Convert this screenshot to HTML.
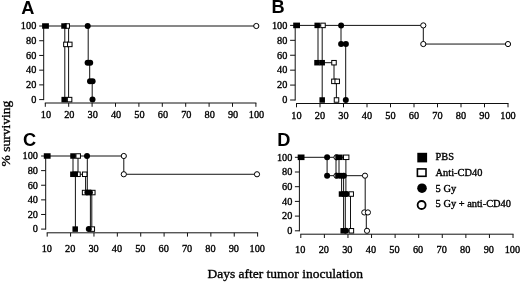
<!DOCTYPE html>
<html><head><meta charset="utf-8"><title>Figure</title>
<style>html,body{margin:0;padding:0;background:#fff;}svg{display:block;}</style></head>
<body><svg width="520" height="282" viewBox="0 0 520 282">
<rect width="520" height="282" fill="#fff"/>
<line x1="43.70" y1="26.00" x2="43.70" y2="100.10" stroke="#111" stroke-width="1"/>
<line x1="39.20" y1="99.60" x2="43.70" y2="99.60" stroke="#111" stroke-width="1"/>
<text x="36.30" y="102.90" font-size="10.3" text-anchor="end" font-family="&quot;Liberation Serif&quot;, serif" font-weight="normal" stroke="#000" stroke-width="0.35" >0</text>
<line x1="39.20" y1="84.88" x2="43.70" y2="84.88" stroke="#111" stroke-width="1"/>
<text x="36.30" y="88.18" font-size="10.3" text-anchor="end" font-family="&quot;Liberation Serif&quot;, serif" font-weight="normal" stroke="#000" stroke-width="0.35" >20</text>
<line x1="39.20" y1="70.16" x2="43.70" y2="70.16" stroke="#111" stroke-width="1"/>
<text x="36.30" y="73.46" font-size="10.3" text-anchor="end" font-family="&quot;Liberation Serif&quot;, serif" font-weight="normal" stroke="#000" stroke-width="0.35" >40</text>
<line x1="39.20" y1="55.44" x2="43.70" y2="55.44" stroke="#111" stroke-width="1"/>
<text x="36.30" y="58.74" font-size="10.3" text-anchor="end" font-family="&quot;Liberation Serif&quot;, serif" font-weight="normal" stroke="#000" stroke-width="0.35" >60</text>
<line x1="39.20" y1="40.72" x2="43.70" y2="40.72" stroke="#111" stroke-width="1"/>
<text x="36.30" y="44.02" font-size="10.3" text-anchor="end" font-family="&quot;Liberation Serif&quot;, serif" font-weight="normal" stroke="#000" stroke-width="0.35" >80</text>
<line x1="39.20" y1="26.00" x2="43.70" y2="26.00" stroke="#111" stroke-width="1"/>
<text x="36.30" y="29.30" font-size="10.3" text-anchor="end" font-family="&quot;Liberation Serif&quot;, serif" font-weight="normal" stroke="#000" stroke-width="0.35" >100</text>
<line x1="44.80" y1="103.00" x2="256.40" y2="103.00" stroke="#111" stroke-width="1"/>
<line x1="45.30" y1="103.00" x2="45.30" y2="106.80" stroke="#111" stroke-width="1"/>
<text x="45.90" y="118.40" font-size="10.3" text-anchor="middle" font-family="&quot;Liberation Serif&quot;, serif" font-weight="normal" stroke="#000" stroke-width="0.35" >10</text>
<line x1="68.70" y1="103.00" x2="68.70" y2="106.80" stroke="#111" stroke-width="1"/>
<text x="69.30" y="118.40" font-size="10.3" text-anchor="middle" font-family="&quot;Liberation Serif&quot;, serif" font-weight="normal" stroke="#000" stroke-width="0.35" >20</text>
<line x1="92.10" y1="103.00" x2="92.10" y2="106.80" stroke="#111" stroke-width="1"/>
<text x="92.70" y="118.40" font-size="10.3" text-anchor="middle" font-family="&quot;Liberation Serif&quot;, serif" font-weight="normal" stroke="#000" stroke-width="0.35" >30</text>
<line x1="115.50" y1="103.00" x2="115.50" y2="106.80" stroke="#111" stroke-width="1"/>
<text x="116.10" y="118.40" font-size="10.3" text-anchor="middle" font-family="&quot;Liberation Serif&quot;, serif" font-weight="normal" stroke="#000" stroke-width="0.35" >40</text>
<line x1="138.90" y1="103.00" x2="138.90" y2="106.80" stroke="#111" stroke-width="1"/>
<text x="139.50" y="118.40" font-size="10.3" text-anchor="middle" font-family="&quot;Liberation Serif&quot;, serif" font-weight="normal" stroke="#000" stroke-width="0.35" >50</text>
<line x1="162.30" y1="103.00" x2="162.30" y2="106.80" stroke="#111" stroke-width="1"/>
<text x="162.90" y="118.40" font-size="10.3" text-anchor="middle" font-family="&quot;Liberation Serif&quot;, serif" font-weight="normal" stroke="#000" stroke-width="0.35" >60</text>
<line x1="185.70" y1="103.00" x2="185.70" y2="106.80" stroke="#111" stroke-width="1"/>
<text x="186.30" y="118.40" font-size="10.3" text-anchor="middle" font-family="&quot;Liberation Serif&quot;, serif" font-weight="normal" stroke="#000" stroke-width="0.35" >70</text>
<line x1="209.10" y1="103.00" x2="209.10" y2="106.80" stroke="#111" stroke-width="1"/>
<text x="209.70" y="118.40" font-size="10.3" text-anchor="middle" font-family="&quot;Liberation Serif&quot;, serif" font-weight="normal" stroke="#000" stroke-width="0.35" >80</text>
<line x1="232.50" y1="103.00" x2="232.50" y2="106.80" stroke="#111" stroke-width="1"/>
<text x="233.10" y="118.40" font-size="10.3" text-anchor="middle" font-family="&quot;Liberation Serif&quot;, serif" font-weight="normal" stroke="#000" stroke-width="0.35" >90</text>
<line x1="255.90" y1="103.00" x2="255.90" y2="106.80" stroke="#111" stroke-width="1"/>
<text x="256.50" y="118.40" font-size="10.3" text-anchor="middle" font-family="&quot;Liberation Serif&quot;, serif" font-weight="normal" stroke="#000" stroke-width="0.35" >100</text>
<text x="21.30" y="13.80" font-size="18.2" text-anchor="start" font-family="&quot;Liberation Sans&quot;, sans-serif" font-weight="bold" >A</text>
<line x1="295.20" y1="25.40" x2="295.20" y2="100.50" stroke="#111" stroke-width="1"/>
<line x1="290.10" y1="100.00" x2="295.20" y2="100.00" stroke="#111" stroke-width="1"/>
<text x="287.40" y="103.30" font-size="10.3" text-anchor="end" font-family="&quot;Liberation Serif&quot;, serif" font-weight="normal" stroke="#000" stroke-width="0.35" >0</text>
<line x1="290.10" y1="85.08" x2="295.20" y2="85.08" stroke="#111" stroke-width="1"/>
<text x="287.40" y="88.38" font-size="10.3" text-anchor="end" font-family="&quot;Liberation Serif&quot;, serif" font-weight="normal" stroke="#000" stroke-width="0.35" >20</text>
<line x1="290.10" y1="70.16" x2="295.20" y2="70.16" stroke="#111" stroke-width="1"/>
<text x="287.40" y="73.46" font-size="10.3" text-anchor="end" font-family="&quot;Liberation Serif&quot;, serif" font-weight="normal" stroke="#000" stroke-width="0.35" >40</text>
<line x1="290.10" y1="55.24" x2="295.20" y2="55.24" stroke="#111" stroke-width="1"/>
<text x="287.40" y="58.54" font-size="10.3" text-anchor="end" font-family="&quot;Liberation Serif&quot;, serif" font-weight="normal" stroke="#000" stroke-width="0.35" >60</text>
<line x1="290.10" y1="40.32" x2="295.20" y2="40.32" stroke="#111" stroke-width="1"/>
<text x="287.40" y="43.62" font-size="10.3" text-anchor="end" font-family="&quot;Liberation Serif&quot;, serif" font-weight="normal" stroke="#000" stroke-width="0.35" >80</text>
<line x1="290.10" y1="25.40" x2="295.20" y2="25.40" stroke="#111" stroke-width="1"/>
<text x="287.40" y="28.70" font-size="10.3" text-anchor="end" font-family="&quot;Liberation Serif&quot;, serif" font-weight="normal" stroke="#000" stroke-width="0.35" >100</text>
<line x1="296.00" y1="103.50" x2="508.50" y2="103.50" stroke="#111" stroke-width="1"/>
<line x1="296.50" y1="103.50" x2="296.50" y2="107.30" stroke="#111" stroke-width="1"/>
<text x="296.50" y="118.50" font-size="10.3" text-anchor="middle" font-family="&quot;Liberation Serif&quot;, serif" font-weight="normal" stroke="#000" stroke-width="0.35" >10</text>
<line x1="320.00" y1="103.50" x2="320.00" y2="107.30" stroke="#111" stroke-width="1"/>
<text x="320.00" y="118.50" font-size="10.3" text-anchor="middle" font-family="&quot;Liberation Serif&quot;, serif" font-weight="normal" stroke="#000" stroke-width="0.35" >20</text>
<line x1="343.50" y1="103.50" x2="343.50" y2="107.30" stroke="#111" stroke-width="1"/>
<text x="343.50" y="118.50" font-size="10.3" text-anchor="middle" font-family="&quot;Liberation Serif&quot;, serif" font-weight="normal" stroke="#000" stroke-width="0.35" >30</text>
<line x1="367.00" y1="103.50" x2="367.00" y2="107.30" stroke="#111" stroke-width="1"/>
<text x="367.00" y="118.50" font-size="10.3" text-anchor="middle" font-family="&quot;Liberation Serif&quot;, serif" font-weight="normal" stroke="#000" stroke-width="0.35" >40</text>
<line x1="390.50" y1="103.50" x2="390.50" y2="107.30" stroke="#111" stroke-width="1"/>
<text x="390.50" y="118.50" font-size="10.3" text-anchor="middle" font-family="&quot;Liberation Serif&quot;, serif" font-weight="normal" stroke="#000" stroke-width="0.35" >50</text>
<line x1="414.00" y1="103.50" x2="414.00" y2="107.30" stroke="#111" stroke-width="1"/>
<text x="414.00" y="118.50" font-size="10.3" text-anchor="middle" font-family="&quot;Liberation Serif&quot;, serif" font-weight="normal" stroke="#000" stroke-width="0.35" >60</text>
<line x1="437.50" y1="103.50" x2="437.50" y2="107.30" stroke="#111" stroke-width="1"/>
<text x="437.50" y="118.50" font-size="10.3" text-anchor="middle" font-family="&quot;Liberation Serif&quot;, serif" font-weight="normal" stroke="#000" stroke-width="0.35" >70</text>
<line x1="461.00" y1="103.50" x2="461.00" y2="107.30" stroke="#111" stroke-width="1"/>
<text x="461.00" y="118.50" font-size="10.3" text-anchor="middle" font-family="&quot;Liberation Serif&quot;, serif" font-weight="normal" stroke="#000" stroke-width="0.35" >80</text>
<line x1="484.50" y1="103.50" x2="484.50" y2="107.30" stroke="#111" stroke-width="1"/>
<text x="484.50" y="118.50" font-size="10.3" text-anchor="middle" font-family="&quot;Liberation Serif&quot;, serif" font-weight="normal" stroke="#000" stroke-width="0.35" >90</text>
<line x1="508.00" y1="103.50" x2="508.00" y2="107.30" stroke="#111" stroke-width="1"/>
<text x="508.00" y="118.50" font-size="10.3" text-anchor="middle" font-family="&quot;Liberation Serif&quot;, serif" font-weight="normal" stroke="#000" stroke-width="0.35" >100</text>
<text x="271.40" y="13.20" font-size="18.2" text-anchor="start" font-family="&quot;Liberation Sans&quot;, sans-serif" font-weight="bold" >B</text>
<line x1="45.70" y1="156.00" x2="45.70" y2="229.60" stroke="#111" stroke-width="1"/>
<line x1="41.10" y1="229.10" x2="45.70" y2="229.10" stroke="#111" stroke-width="1"/>
<text x="38.00" y="232.40" font-size="10.3" text-anchor="end" font-family="&quot;Liberation Serif&quot;, serif" font-weight="normal" stroke="#000" stroke-width="0.35" >0</text>
<line x1="41.10" y1="214.48" x2="45.70" y2="214.48" stroke="#111" stroke-width="1"/>
<text x="38.00" y="217.78" font-size="10.3" text-anchor="end" font-family="&quot;Liberation Serif&quot;, serif" font-weight="normal" stroke="#000" stroke-width="0.35" >20</text>
<line x1="41.10" y1="199.86" x2="45.70" y2="199.86" stroke="#111" stroke-width="1"/>
<text x="38.00" y="203.16" font-size="10.3" text-anchor="end" font-family="&quot;Liberation Serif&quot;, serif" font-weight="normal" stroke="#000" stroke-width="0.35" >40</text>
<line x1="41.10" y1="185.24" x2="45.70" y2="185.24" stroke="#111" stroke-width="1"/>
<text x="38.00" y="188.54" font-size="10.3" text-anchor="end" font-family="&quot;Liberation Serif&quot;, serif" font-weight="normal" stroke="#000" stroke-width="0.35" >60</text>
<line x1="41.10" y1="170.62" x2="45.70" y2="170.62" stroke="#111" stroke-width="1"/>
<text x="38.00" y="173.92" font-size="10.3" text-anchor="end" font-family="&quot;Liberation Serif&quot;, serif" font-weight="normal" stroke="#000" stroke-width="0.35" >80</text>
<line x1="41.10" y1="156.00" x2="45.70" y2="156.00" stroke="#111" stroke-width="1"/>
<text x="38.00" y="159.30" font-size="10.3" text-anchor="end" font-family="&quot;Liberation Serif&quot;, serif" font-weight="normal" stroke="#000" stroke-width="0.35" >100</text>
<line x1="46.70" y1="232.80" x2="258.12" y2="232.80" stroke="#111" stroke-width="1"/>
<line x1="47.20" y1="232.80" x2="47.20" y2="236.60" stroke="#111" stroke-width="1"/>
<text x="46.80" y="252.20" font-size="10.3" text-anchor="middle" font-family="&quot;Liberation Serif&quot;, serif" font-weight="normal" stroke="#000" stroke-width="0.35" >10</text>
<line x1="70.58" y1="232.80" x2="70.58" y2="236.60" stroke="#111" stroke-width="1"/>
<text x="70.18" y="252.20" font-size="10.3" text-anchor="middle" font-family="&quot;Liberation Serif&quot;, serif" font-weight="normal" stroke="#000" stroke-width="0.35" >20</text>
<line x1="93.96" y1="232.80" x2="93.96" y2="236.60" stroke="#111" stroke-width="1"/>
<text x="93.56" y="252.20" font-size="10.3" text-anchor="middle" font-family="&quot;Liberation Serif&quot;, serif" font-weight="normal" stroke="#000" stroke-width="0.35" >30</text>
<line x1="117.34" y1="232.80" x2="117.34" y2="236.60" stroke="#111" stroke-width="1"/>
<text x="116.94" y="252.20" font-size="10.3" text-anchor="middle" font-family="&quot;Liberation Serif&quot;, serif" font-weight="normal" stroke="#000" stroke-width="0.35" >40</text>
<line x1="140.72" y1="232.80" x2="140.72" y2="236.60" stroke="#111" stroke-width="1"/>
<text x="140.32" y="252.20" font-size="10.3" text-anchor="middle" font-family="&quot;Liberation Serif&quot;, serif" font-weight="normal" stroke="#000" stroke-width="0.35" >50</text>
<line x1="164.10" y1="232.80" x2="164.10" y2="236.60" stroke="#111" stroke-width="1"/>
<text x="163.70" y="252.20" font-size="10.3" text-anchor="middle" font-family="&quot;Liberation Serif&quot;, serif" font-weight="normal" stroke="#000" stroke-width="0.35" >60</text>
<line x1="187.48" y1="232.80" x2="187.48" y2="236.60" stroke="#111" stroke-width="1"/>
<text x="187.08" y="252.20" font-size="10.3" text-anchor="middle" font-family="&quot;Liberation Serif&quot;, serif" font-weight="normal" stroke="#000" stroke-width="0.35" >70</text>
<line x1="210.86" y1="232.80" x2="210.86" y2="236.60" stroke="#111" stroke-width="1"/>
<text x="210.46" y="252.20" font-size="10.3" text-anchor="middle" font-family="&quot;Liberation Serif&quot;, serif" font-weight="normal" stroke="#000" stroke-width="0.35" >80</text>
<line x1="234.24" y1="232.80" x2="234.24" y2="236.60" stroke="#111" stroke-width="1"/>
<text x="233.84" y="252.20" font-size="10.3" text-anchor="middle" font-family="&quot;Liberation Serif&quot;, serif" font-weight="normal" stroke="#000" stroke-width="0.35" >90</text>
<line x1="257.62" y1="232.80" x2="257.62" y2="236.60" stroke="#111" stroke-width="1"/>
<text x="257.22" y="252.20" font-size="10.3" text-anchor="middle" font-family="&quot;Liberation Serif&quot;, serif" font-weight="normal" stroke="#000" stroke-width="0.35" >100</text>
<text x="22.90" y="146.00" font-size="18.2" text-anchor="start" font-family="&quot;Liberation Sans&quot;, sans-serif" font-weight="bold" >C</text>
<line x1="299.40" y1="157.30" x2="299.40" y2="231.30" stroke="#111" stroke-width="1"/>
<line x1="294.90" y1="230.80" x2="299.40" y2="230.80" stroke="#111" stroke-width="1"/>
<text x="292.40" y="234.10" font-size="10.3" text-anchor="end" font-family="&quot;Liberation Serif&quot;, serif" font-weight="normal" stroke="#000" stroke-width="0.35" >0</text>
<line x1="294.90" y1="216.10" x2="299.40" y2="216.10" stroke="#111" stroke-width="1"/>
<text x="292.40" y="219.40" font-size="10.3" text-anchor="end" font-family="&quot;Liberation Serif&quot;, serif" font-weight="normal" stroke="#000" stroke-width="0.35" >20</text>
<line x1="294.90" y1="201.40" x2="299.40" y2="201.40" stroke="#111" stroke-width="1"/>
<text x="292.40" y="204.70" font-size="10.3" text-anchor="end" font-family="&quot;Liberation Serif&quot;, serif" font-weight="normal" stroke="#000" stroke-width="0.35" >40</text>
<line x1="294.90" y1="186.70" x2="299.40" y2="186.70" stroke="#111" stroke-width="1"/>
<text x="292.40" y="190.00" font-size="10.3" text-anchor="end" font-family="&quot;Liberation Serif&quot;, serif" font-weight="normal" stroke="#000" stroke-width="0.35" >60</text>
<line x1="294.90" y1="172.00" x2="299.40" y2="172.00" stroke="#111" stroke-width="1"/>
<text x="292.40" y="175.30" font-size="10.3" text-anchor="end" font-family="&quot;Liberation Serif&quot;, serif" font-weight="normal" stroke="#000" stroke-width="0.35" >80</text>
<line x1="294.90" y1="157.30" x2="299.40" y2="157.30" stroke="#111" stroke-width="1"/>
<text x="292.40" y="160.60" font-size="10.3" text-anchor="end" font-family="&quot;Liberation Serif&quot;, serif" font-weight="normal" stroke="#000" stroke-width="0.35" >100</text>
<line x1="300.30" y1="234.20" x2="513.52" y2="234.20" stroke="#111" stroke-width="1"/>
<line x1="300.80" y1="234.20" x2="300.80" y2="238.00" stroke="#111" stroke-width="1"/>
<text x="300.20" y="252.50" font-size="10.3" text-anchor="middle" font-family="&quot;Liberation Serif&quot;, serif" font-weight="normal" stroke="#000" stroke-width="0.35" >10</text>
<line x1="324.38" y1="234.20" x2="324.38" y2="238.00" stroke="#111" stroke-width="1"/>
<text x="323.78" y="252.50" font-size="10.3" text-anchor="middle" font-family="&quot;Liberation Serif&quot;, serif" font-weight="normal" stroke="#000" stroke-width="0.35" >20</text>
<line x1="347.96" y1="234.20" x2="347.96" y2="238.00" stroke="#111" stroke-width="1"/>
<text x="347.36" y="252.50" font-size="10.3" text-anchor="middle" font-family="&quot;Liberation Serif&quot;, serif" font-weight="normal" stroke="#000" stroke-width="0.35" >30</text>
<line x1="371.54" y1="234.20" x2="371.54" y2="238.00" stroke="#111" stroke-width="1"/>
<text x="370.94" y="252.50" font-size="10.3" text-anchor="middle" font-family="&quot;Liberation Serif&quot;, serif" font-weight="normal" stroke="#000" stroke-width="0.35" >40</text>
<line x1="395.12" y1="234.20" x2="395.12" y2="238.00" stroke="#111" stroke-width="1"/>
<text x="394.52" y="252.50" font-size="10.3" text-anchor="middle" font-family="&quot;Liberation Serif&quot;, serif" font-weight="normal" stroke="#000" stroke-width="0.35" >50</text>
<line x1="418.70" y1="234.20" x2="418.70" y2="238.00" stroke="#111" stroke-width="1"/>
<text x="418.10" y="252.50" font-size="10.3" text-anchor="middle" font-family="&quot;Liberation Serif&quot;, serif" font-weight="normal" stroke="#000" stroke-width="0.35" >60</text>
<line x1="442.28" y1="234.20" x2="442.28" y2="238.00" stroke="#111" stroke-width="1"/>
<text x="441.68" y="252.50" font-size="10.3" text-anchor="middle" font-family="&quot;Liberation Serif&quot;, serif" font-weight="normal" stroke="#000" stroke-width="0.35" >70</text>
<line x1="465.86" y1="234.20" x2="465.86" y2="238.00" stroke="#111" stroke-width="1"/>
<text x="465.26" y="252.50" font-size="10.3" text-anchor="middle" font-family="&quot;Liberation Serif&quot;, serif" font-weight="normal" stroke="#000" stroke-width="0.35" >80</text>
<line x1="489.44" y1="234.20" x2="489.44" y2="238.00" stroke="#111" stroke-width="1"/>
<text x="488.84" y="252.50" font-size="10.3" text-anchor="middle" font-family="&quot;Liberation Serif&quot;, serif" font-weight="normal" stroke="#000" stroke-width="0.35" >90</text>
<line x1="513.02" y1="234.20" x2="513.02" y2="238.00" stroke="#111" stroke-width="1"/>
<text x="512.42" y="252.50" font-size="10.3" text-anchor="middle" font-family="&quot;Liberation Serif&quot;, serif" font-weight="normal" stroke="#000" stroke-width="0.35" >100</text>
<text x="277.20" y="146.30" font-size="18.2" text-anchor="start" font-family="&quot;Liberation Sans&quot;, sans-serif" font-weight="bold" >D</text>
<polyline points="45.30,26.00 256.20,26.00" fill="none" stroke="#111" stroke-width="1"/>
<polyline points="88.20,26.00 88.20,62.80 89.70,62.80 89.70,81.20 92.20,81.20 92.20,99.60" fill="none" stroke="#111" stroke-width="1"/>
<polyline points="68.60,26.00 68.60,99.60" fill="none" stroke="#111" stroke-width="1"/>
<polyline points="64.80,26.00 64.80,99.60" fill="none" stroke="#111" stroke-width="1"/>
<circle cx="256.30" cy="26.00" r="2.6" fill="#fff" stroke="#000" stroke-width="1"/>
<rect x="64.95" y="23.75" width="4.5" height="4.5" fill="#fff" stroke="#000" stroke-width="1"/>
<rect x="63.65" y="42.15" width="4.5" height="4.5" fill="#fff" stroke="#000" stroke-width="1"/>
<rect x="67.55" y="42.15" width="4.5" height="4.5" fill="#fff" stroke="#000" stroke-width="1"/>
<rect x="67.35" y="97.35" width="4.5" height="4.5" fill="#fff" stroke="#000" stroke-width="1"/>
<circle cx="87.70" cy="26.00" r="3.0" fill="#000"/>
<circle cx="87.60" cy="62.80" r="3.0" fill="#000"/>
<circle cx="90.20" cy="62.80" r="3.0" fill="#000"/>
<circle cx="90.00" cy="81.20" r="3.0" fill="#000"/>
<circle cx="92.60" cy="81.20" r="3.0" fill="#000"/>
<circle cx="92.50" cy="99.60" r="3.0" fill="#000"/>
<rect x="61.25" y="23.25" width="5.5" height="5.5" fill="#000"/>
<rect x="61.45" y="96.85" width="5.5" height="5.5" fill="#000"/>
<rect x="42.10" y="23.25" width="6.8" height="5.5" fill="#000"/>
<polyline points="296.50,25.40 423.30,25.40 423.30,44.05 508.00,44.05" fill="none" stroke="#111" stroke-width="1"/>
<polyline points="341.00,25.40 341.00,44.05 345.70,44.05 345.70,100.00" fill="none" stroke="#111" stroke-width="1"/>
<polyline points="322.20,25.40 322.20,62.70 334.00,62.70 334.00,81.35 336.40,81.35 336.40,100.00" fill="none" stroke="#111" stroke-width="1"/>
<polyline points="318.00,25.40 318.00,62.70 322.20,62.70 322.20,100.00" fill="none" stroke="#111" stroke-width="1"/>
<circle cx="423.30" cy="25.40" r="2.6" fill="#fff" stroke="#000" stroke-width="1"/>
<circle cx="423.30" cy="44.05" r="2.6" fill="#fff" stroke="#000" stroke-width="1"/>
<circle cx="508.00" cy="44.05" r="2.6" fill="#fff" stroke="#000" stroke-width="1"/>
<rect x="320.75" y="23.15" width="4.5" height="4.5" fill="#fff" stroke="#000" stroke-width="1"/>
<rect x="331.75" y="60.45" width="4.5" height="4.5" fill="#fff" stroke="#000" stroke-width="1"/>
<rect x="331.65" y="79.10" width="4.5" height="4.5" fill="#fff" stroke="#000" stroke-width="1"/>
<rect x="334.95" y="79.10" width="4.5" height="4.5" fill="#fff" stroke="#000" stroke-width="1"/>
<rect x="334.25" y="97.75" width="4.5" height="4.5" fill="#fff" stroke="#000" stroke-width="1"/>
<circle cx="341.10" cy="25.40" r="3.0" fill="#000"/>
<circle cx="341.10" cy="44.05" r="3.0" fill="#000"/>
<circle cx="345.90" cy="44.05" r="3.0" fill="#000"/>
<circle cx="345.80" cy="100.00" r="3.0" fill="#000"/>
<rect x="314.45" y="22.65" width="5.5" height="5.5" fill="#000"/>
<rect x="314.25" y="59.95" width="5.5" height="5.5" fill="#000"/>
<rect x="319.45" y="59.95" width="5.5" height="5.5" fill="#000"/>
<rect x="319.45" y="97.25" width="5.5" height="5.5" fill="#000"/>
<rect x="293.20" y="22.60" width="6.8" height="5.6" fill="#000"/>
<polyline points="47.20,156.00 123.80,156.00 123.80,174.27 257.00,174.27" fill="none" stroke="#111" stroke-width="1"/>
<polyline points="87.30,156.00 87.30,192.55 90.40,192.55 90.40,229.10" fill="none" stroke="#111" stroke-width="1"/>
<polyline points="78.00,156.00 78.00,174.27 85.60,174.27 85.60,192.55 91.80,192.55 91.80,229.10" fill="none" stroke="#111" stroke-width="1"/>
<polyline points="73.00,156.00 73.00,174.27 75.40,174.27 75.40,229.10" fill="none" stroke="#111" stroke-width="1"/>
<circle cx="123.80" cy="156.00" r="2.6" fill="#fff" stroke="#000" stroke-width="1"/>
<circle cx="123.80" cy="174.27" r="2.6" fill="#fff" stroke="#000" stroke-width="1"/>
<circle cx="257.00" cy="174.27" r="2.6" fill="#fff" stroke="#000" stroke-width="1"/>
<rect x="75.95" y="153.75" width="4.5" height="4.5" fill="#fff" stroke="#000" stroke-width="1"/>
<rect x="75.75" y="172.02" width="4.5" height="4.5" fill="#fff" stroke="#000" stroke-width="1"/>
<rect x="82.45" y="172.02" width="4.5" height="4.5" fill="#fff" stroke="#000" stroke-width="1"/>
<rect x="82.35" y="190.30" width="4.5" height="4.5" fill="#fff" stroke="#000" stroke-width="1"/>
<rect x="90.55" y="190.30" width="4.5" height="4.5" fill="#fff" stroke="#000" stroke-width="1"/>
<rect x="90.05" y="226.85" width="4.5" height="4.5" fill="#fff" stroke="#000" stroke-width="1"/>
<circle cx="87.00" cy="156.00" r="3.0" fill="#000"/>
<circle cx="87.40" cy="192.55" r="3.0" fill="#000"/>
<circle cx="89.90" cy="192.55" r="3.0" fill="#000"/>
<circle cx="88.80" cy="229.10" r="3.0" fill="#000"/>
<rect x="70.25" y="153.25" width="5.5" height="5.5" fill="#000"/>
<rect x="70.15" y="171.52" width="5.5" height="5.5" fill="#000"/>
<rect x="72.45" y="171.52" width="5.5" height="5.5" fill="#000"/>
<rect x="72.45" y="226.35" width="5.5" height="5.5" fill="#000"/>
<rect x="43.80" y="153.25" width="6.8" height="5.5" fill="#000"/>
<polyline points="300.80,157.30 336.00,157.30 336.00,175.68 365.20,175.68 365.20,212.43 366.30,212.43 366.30,230.80" fill="none" stroke="#111" stroke-width="1"/>
<polyline points="327.10,157.30 327.10,175.68 343.60,175.68 343.60,194.05 345.30,194.05 345.30,230.80" fill="none" stroke="#111" stroke-width="1"/>
<polyline points="336.00,157.30 345.90,157.30 345.90,194.05 350.50,194.05 350.50,230.80" fill="none" stroke="#111" stroke-width="1"/>
<polyline points="339.00,157.30 339.00,175.68 341.60,175.68 341.60,194.05 343.60,194.05 343.60,230.80" fill="none" stroke="#111" stroke-width="1"/>
<circle cx="336.50" cy="157.30" r="2.6" fill="#fff" stroke="#000" stroke-width="1"/>
<circle cx="336.50" cy="175.68" r="2.6" fill="#fff" stroke="#000" stroke-width="1"/>
<circle cx="365.00" cy="175.68" r="2.6" fill="#fff" stroke="#000" stroke-width="1"/>
<circle cx="364.30" cy="212.43" r="2.6" fill="#fff" stroke="#000" stroke-width="1"/>
<circle cx="367.90" cy="212.43" r="2.6" fill="#fff" stroke="#000" stroke-width="1"/>
<circle cx="367.00" cy="230.80" r="2.6" fill="#fff" stroke="#000" stroke-width="1"/>
<rect x="348.95" y="191.80" width="4.5" height="4.5" fill="#fff" stroke="#000" stroke-width="1"/>
<rect x="349.15" y="228.55" width="4.5" height="4.5" fill="#fff" stroke="#000" stroke-width="1"/>
<rect x="343.50" y="155.05" width="5.4" height="4.5" fill="#fff" stroke="#000" stroke-width="1"/>
<circle cx="327.10" cy="157.30" r="3.0" fill="#000"/>
<circle cx="327.10" cy="175.68" r="3.0" fill="#000"/>
<circle cx="343.80" cy="175.68" r="3.0" fill="#000"/>
<circle cx="346.50" cy="194.05" r="3.0" fill="#000"/>
<circle cx="346.00" cy="230.80" r="3.0" fill="#000"/>
<rect x="338.75" y="172.93" width="5.5" height="5.5" fill="#000"/>
<rect x="338.75" y="191.30" width="5.5" height="5.5" fill="#000"/>
<rect x="341.75" y="191.30" width="5.5" height="5.5" fill="#000"/>
<rect x="340.45" y="228.05" width="5.5" height="5.5" fill="#000"/>
<rect x="335.30" y="154.55" width="7.4" height="5.5" fill="#000"/>
<rect x="335.20" y="172.93" width="6.8" height="5.5" fill="#000"/>
<rect x="297.70" y="154.50" width="6.8" height="5.6" fill="#000"/>
<rect x="417.3" y="152.8" width="9.8" height="9.6" fill="#000"/>
<rect x="417.4" y="168.9" width="8.6" height="7.4" fill="#fff" stroke="#000" stroke-width="1.6"/>
<circle cx="422" cy="188.2" r="4.8" fill="#000"/>
<circle cx="421.6" cy="205" r="4" fill="#fff" stroke="#000" stroke-width="1.8"/>
<text x="435.60" y="160.40" font-size="10.4" text-anchor="start" font-family="&quot;Liberation Serif&quot;, serif" font-weight="normal" stroke="#000" stroke-width="0.35" >PBS</text>
<text x="435.60" y="176.00" font-size="10.4" text-anchor="start" font-family="&quot;Liberation Serif&quot;, serif" font-weight="normal" stroke="#000" stroke-width="0.35" >Anti-CD40</text>
<text x="435.60" y="191.70" font-size="10.4" text-anchor="start" font-family="&quot;Liberation Serif&quot;, serif" font-weight="normal" stroke="#000" stroke-width="0.35" >5 Gy</text>
<text x="435.60" y="207.20" font-size="10.4" text-anchor="start" font-family="&quot;Liberation Serif&quot;, serif" font-weight="normal" stroke="#000" stroke-width="0.35" >5 Gy + anti-CD40</text>
<text x="207.40" y="278.10" font-size="13.5" text-anchor="start" font-family="&quot;Liberation Serif&quot;, serif" font-weight="normal" stroke="#000" stroke-width="0.35" >Days after tumor inoculation</text>
<text transform="translate(10.1,166.4) rotate(-90)" font-size="13.5" font-family="&quot;Liberation Serif&quot;, serif" stroke="#000" stroke-width="0.35">% surviving</text>
</svg></body></html>
